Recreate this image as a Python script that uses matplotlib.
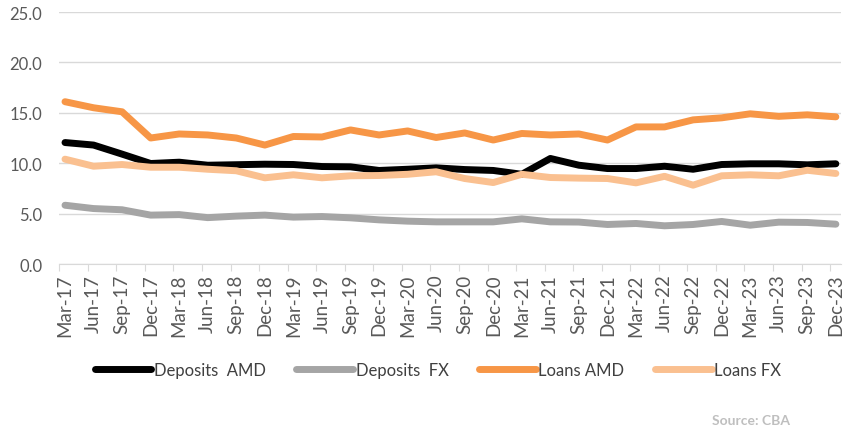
import matplotlib
matplotlib.use("Agg")
import matplotlib.pyplot as plt
import numpy as np

plt.rcParams['font.family'] = ['Lato', 'DejaVu Sans']

# quarters
quarters = ['Mar-17', 'Jun-17', 'Sep-17', 'Dec-17',
            'Mar-18', 'Jun-18', 'Sep-18', 'Dec-18',
            'Mar-19', 'Jun-19', 'Sep-19', 'Dec-19',
            'Mar-20', 'Jun-20', 'Sep-20', 'Dec-20',
            'Mar-21', 'Jun-21', 'Sep-21', 'Dec-21',
            'Mar-22', 'Jun-22', 'Sep-22', 'Dec-22',
            'Mar-23', 'Jun-23', 'Sep-23', 'Dec-23']

# series values
deposits_amd = [12.05, 11.8, 10.9, 9.97, 10.1, 9.8, 9.85, 9.9,
                9.87, 9.67, 9.64, 9.28, 9.4, 9.54, 9.37, 9.28,
                8.9, 10.47, 9.8, 9.47, 9.47, 9.7, 9.4, 9.87,
                9.94, 9.94, 9.84, 9.94]
deposits_fx = [5.83, 5.5, 5.38, 4.85, 4.9, 4.6, 4.75, 4.85,
               4.65, 4.71, 4.58, 4.38, 4.25, 4.18, 4.18, 4.18,
               4.48, 4.18, 4.16, 3.92, 4.02, 3.79, 3.92, 4.22,
               3.85, 4.15, 4.12, 3.95]
loans_amd = [16.1, 15.5, 15.1, 12.5, 12.9, 12.8, 12.5, 11.8,
             12.65, 12.6, 13.3, 12.8, 13.2, 12.55, 13.0, 12.3,
             12.95, 12.8, 12.9, 12.3, 13.6, 13.6, 14.3, 14.5,
             14.9, 14.65, 14.8, 14.6]
loans_fx = [10.4, 9.7, 9.87, 9.6, 9.6, 9.4, 9.25, 8.55,
            8.85, 8.55, 8.75, 8.78, 8.9, 9.15, 8.48, 8.08,
            8.9, 8.58, 8.52, 8.48, 8.05, 8.7, 7.82, 8.75,
            8.85, 8.75, 9.3, 8.98]

x = np.arange(len(quarters))
lw = 5

fig = plt.figure(figsize=(8.45, 4.27), dpi=100)
# plot area: x 59..841 px, y 13..265 px
ax = fig.add_axes([59/845, 1 - 265/427, 782/845, 252/427])

ax.plot(x, deposits_amd, color='black', lw=lw, label='Deposits  AMD', solid_capstyle='round', zorder=3)
ax.plot(x, deposits_fx, color='#a5a5a5', lw=lw, label='Deposits  FX', solid_capstyle='round', zorder=3)
ax.plot(x, loans_amd, color='#f79646', lw=lw, label='Loans AMD', solid_capstyle='round', zorder=3)
ax.plot(x, loans_fx, color='#fac090', lw=lw, label='Loans FX', solid_capstyle='round', zorder=3)

ax.set_ylim(0, 25)
ax.set_yticks(np.arange(0, 25.1, 5))
ax.set_yticklabels(['%.1f' % v for v in np.arange(0, 25.1, 5)])
ax.set_xlim(-0.21, len(quarters) - 1 + 0.18)

# tick marks sit a little left of the points, labels under the points
ax.set_xticks(x - 0.2)
ax.set_xticklabels([])
ax.set_xticks(x, minor=True)
ax.set_xticklabels(quarters, rotation=90, minor=True)

ax.grid(axis='y', color='#d9d9d9', lw=1)
ax.set_axisbelow(True)
for s in ['top', 'right', 'left']:
    ax.spines[s].set_visible(False)
ax.spines['bottom'].set_color('#d9d9d9')
ax.tick_params(axis='y', length=0, labelsize=12, labelcolor='#595959', pad=12)
ax.tick_params(axis='x', which='major', length=5, color='#d9d9d9')
ax.tick_params(axis='x', which='minor', length=0, labelsize=13.5, labelcolor='#595959', pad=7)

leg = ax.legend(loc='center', bbox_to_anchor=((438 - 59)/782, (265 - 371)/252),
                ncol=4, frameon=False, fontsize=12, handlelength=3.4,
                handletextpad=0.15, columnspacing=1.85, labelcolor='#404040')

fig.text(790/845, 1 - 421/427, 'Source: CBA', color='#bfbfbf', fontsize=10,
         fontweight='bold', ha='right', va='center')

fig.savefig('out.png', dpi=100)
